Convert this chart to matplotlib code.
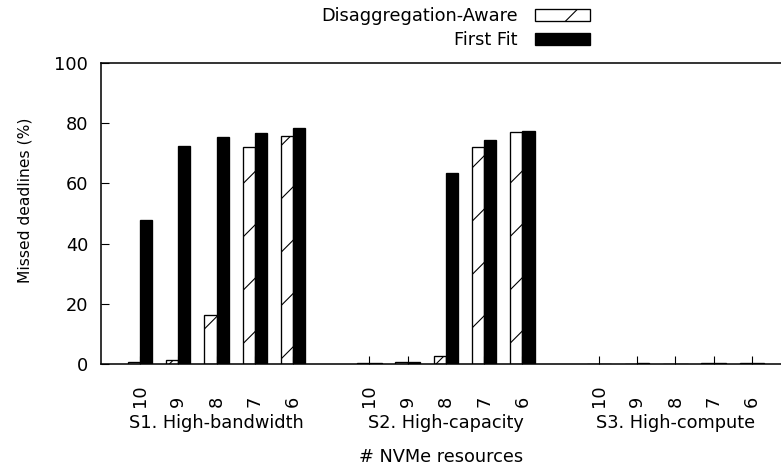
import numpy as np
import matplotlib
matplotlib.use('Agg')
from matplotlib import pyplot as plt

# data
groups = ['S1. High-bandwidth', 'S2. High-capacity', 'S3. High-compute']
nvme = ['10', '9', '8', '7', '6']
da_vals = [[0.5, 1.2, 16.4, 72.0, 75.6],   # Disaggregation-Aware
           [0.3, 0.6, 2.6, 72.2, 77.1],
           [0.0, 0.0, 0.0, 0.2, 0.3]]
ff_vals = [[47.8, 72.3, 75.4, 76.7, 78.4],  # First Fit
           [0.3, 0.7, 63.5, 74.4, 77.5],
           [0.0, 0.2, 0.0, 0.3, 0.3]]
yticks = [0, 20, 40, 60, 80, 100]

DPI = 160
plt.rcParams['font.family'] = ['DejaVu Sans']
plt.rcParams['font.size'] = 8
plt.rcParams['hatch.linewidth'] = 0.5

fig = plt.figure(figsize=(781 / DPI, 466 / DPI), dpi=DPI)
ax = fig.add_axes([101 / 781, 1 - 364 / 466, 680 / 781, 301 / 466])

w = 0.32
pos = []
for g in range(len(groups)):
    x = np.arange(len(nvme)) + g * 6
    pos.extend(x)
    ax.bar(x - w / 2, da_vals[g], w, facecolor='white', edgecolor='black',
           hatch='/', linewidth=0.6, label='Disaggregation-Aware' if g == 0 else None)
    ax.bar(x + w / 2, ff_vals[g], w, facecolor='black', edgecolor='black',
           linewidth=0.6, label='First Fit' if g == 0 else None)
    ax.text(g * 6 + 2, -0.196, groups[g], transform=ax.get_xaxis_transform(),
            ha='center', va='center')

ax.set_xlim(-1.02, 16.76)
ax.set_ylim(0, 100)
ax.set_xticks(pos)
ax.set_xticklabels(nvme * len(groups), rotation=90, va='bottom')
ax.set_yticks(yticks)
ax.tick_params(axis='x', direction='in', length=3.6, width=0.5, pad=19.3, top=False)
ax.tick_params(axis='y', direction='in', length=3.6, width=0.5, pad=5.8, right=False)
for s in ['left', 'top', 'bottom']:
    ax.spines[s].set_linewidth(0.7)
ax.spines['right'].set_visible(False)

ax.set_ylabel('Missed deadlines (%)', fontsize=7)
ax.yaxis.set_label_coords(-0.1, 0.545)
ax.set_xlabel('# NVMe resources', va='center')
ax.xaxis.set_label_coords(0.5, -0.309)

ax.legend(loc='upper right', bbox_to_anchor=(590 / 781, 1 - 7 / 466),
          bbox_transform=fig.transFigure, frameon=False, markerfirst=False,
          handlelength=3.1, handleheight=0.62, handletextpad=0.95,
          borderpad=0, borderaxespad=0, labelspacing=0.35)

plt.savefig('out.png', dpi=DPI)
